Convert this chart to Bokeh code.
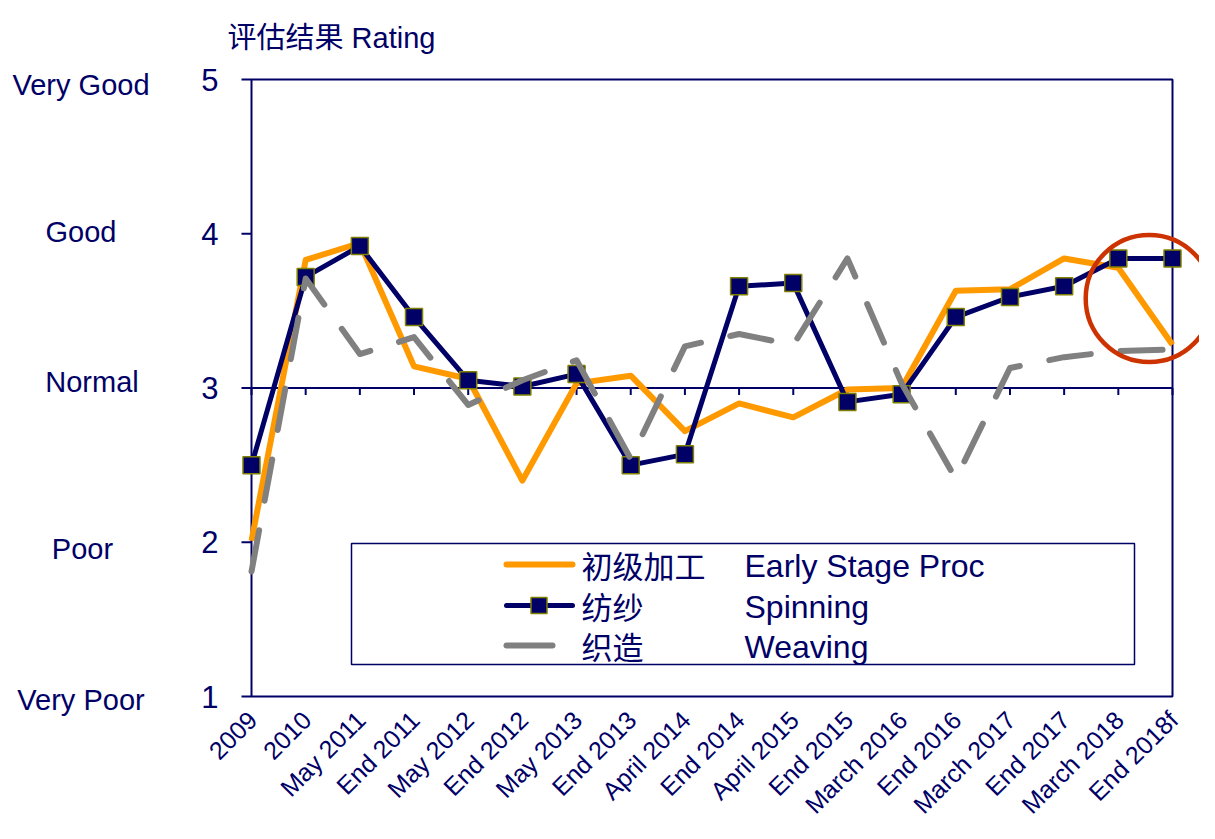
import math
from bokeh.plotting import figure
from bokeh.models import Range1d, Label, LabelSet, ColumnDataSource
from bokeh.core.properties import value
from bokeh.embed import file_html
from bokeh.resources import INLINE

# ---------------- data ----------------
categories = ["2009", "2010", "May 2011", "End 2011", "May 2012", "End 2012",
              "May 2013", "End 2013", "April 2014", "End 2014", "April 2015",
              "End 2015", "March 2016", "End 2016", "March 2017", "End 2017",
              "March 2018", "End 2018f"]
early_stage = [2.01, 3.83, 3.94, 3.14, 3.06, 2.40, 3.03, 3.08, 2.72, 2.90,
               2.81, 2.99, 3.00, 3.63, 3.64, 3.84, 3.78, 3.28]
spinning = [2.50, 3.72, 3.92, 3.46, 3.05, 3.01, 3.09, 2.50, 2.57, 3.66,
            3.68, 2.91, 2.96, 3.46, 3.59, 3.66, 3.84, 3.84]
weaving = [1.81, 3.71, 3.22, 3.33, 2.89, 3.05, 3.18, 2.54, 3.27, 3.35,
           3.28, 3.84, 3.03, 2.41, 3.13, 3.20, 3.24, 3.25]
rating_values = [5, 4, 3, 2, 1]
rating_names = ["Very Good", "Good", "Normal", "Poor", "Very Poor"]
series_cn = ["初级加工", "纺纱", "织造"]
series_en = ["Early Stage Proc", "Spinning", "Weaving"]
axis_cross = 3
title_text = "评估结果 Rating"
highlight_center = (16.57, 3.58)   # circled forecast area

# ---------------- styles / layout (reference pixels) ----------------
NAVY = "#000066"
ORANGE = "#FF9900"
GRAY = "#808080"
OLIVE = "#808000"
RED = "#CC3300"
LATIN = "Liberation Sans"
CJK = "Noto Sans CJK SC"
MIXED = "Liberation Sans, Noto Sans CJK SC"

W, H = 1199, 823
AX_L, AX_R, AX_T, AX_B = 251, 1172, 79, 696      # value box in reference px

n = len(categories)
x_idx = list(range(n))
y_top, y_bot = max(rating_values), min(rating_values)
px_x = (AX_R - AX_L) / (n - 1)
px_y = (AX_B - AX_T) / (y_top - y_bot)


def rx(px):
    return (px - AX_L) / px_x


def ry(py):
    return y_top - (py - AX_T) / px_y


p = figure(width=W, height=H, output_backend="svg", toolbar_location=None,
           x_range=Range1d(rx(0), rx(W)),
           y_range=Range1d(ry(H), ry(0)),
           min_border_left=0, min_border_right=0, min_border_top=0, min_border_bottom=0,
           x_axis_location=None, y_axis_location=None)
p.outline_line_color = None
p.background_fill_color = "white"
p.border_fill_color = "white"
for g in p.grid:
    g.visible = False
p.xgrid.grid_line_color = None
p.ygrid.grid_line_color = None

# plot box (left edge is the value axis)
p.quad(left=[x_idx[0]], right=[x_idx[-1]], bottom=[y_bot], top=[y_top],
       fill_color=None, line_color=NAVY, line_width=2)

# value-axis ticks and labels
nv = len(rating_values)
p.segment(x0=[x_idx[0]] * nv, y0=rating_values,
          x1=[x_idx[0] - 10 / px_x] * nv, y1=rating_values,
          line_color=NAVY, line_width=2)
val_src = ColumnDataSource(dict(x=[x_idx[0]] * nv, y=rating_values,
                                text=[str(v) for v in rating_values]))
p.add_layout(LabelSet(x="x", y="y", text="text", source=val_src, x_offset=-33,
                      text_align="right", text_baseline="middle",
                      text_font=value(LATIN), text_font_size=value("31px"), text_color=NAVY))

# category axis crossing at Normal
p.line(x=[x_idx[0], x_idx[-1]], y=[axis_cross, axis_cross], line_color=NAVY, line_width=2)
p.segment(x0=x_idx, y0=[axis_cross] * n, x1=x_idx, y1=[axis_cross - 7 / px_y] * n,
          line_color=NAVY, line_width=2)

# series
p.line(x_idx, early_stage, line_color=ORANGE, line_width=6, line_join="round")
p.line(x_idx, spinning, line_color=NAVY, line_width=5, line_join="round")
p.scatter(x_idx, spinning, marker="square", size=17, fill_color=NAVY,
          line_color=OLIVE, line_width=1.5)
p.line(x_idx, weaving, line_color=GRAY, line_width=6, line_dash="42 30",
       line_cap="round", line_join="round")

# highlight circle
p.scatter([highlight_center[0]], [highlight_center[1]], marker="circle", size=127,
          fill_color=None, line_color=RED, line_width=4.5)

# category labels
cat_src = ColumnDataSource(dict(x=x_idx, y=[y_bot] * n, text=categories))
p.add_layout(LabelSet(x="x", y="y", text="text", source=cat_src, angle=math.pi / 4,
                      text_align="right", text_baseline="middle", x_offset=1, y_offset=-19,
                      text_font=value(LATIN), text_font_size=value("25px"), text_color=NAVY))

# title
p.add_layout(Label(x=rx(227), y=ry(37.5), text=title_text, text_font=MIXED,
                   text_font_size="29px", text_color=NAVY, text_align="left",
                   text_baseline="alphabetic"))

# rating names
rating_cx = [80.5, 80.5, 91.5, 82, 80.5]
rating_cy = [84, 231, 381, 548, 699]
name_src = ColumnDataSource(dict(x=[rx(c) for c in rating_cx], y=[ry(c) for c in rating_cy],
                                 text=rating_names))
p.add_layout(LabelSet(x="x", y="y", text="text", source=name_src,
                      text_align="center", text_baseline="middle",
                      text_font=value(LATIN), text_font_size=value("29px"), text_color=NAVY))

# legend (drawn)
p.quad(left=[rx(351)], right=[rx(1134)], bottom=[ry(664)], top=[ry(543)],
       fill_color="white", line_color=NAVY, line_width=1.5)
row_y = [564, 605, 645]
p.line([rx(506), rx(572)], [ry(row_y[0])] * 2, line_color=ORANGE, line_width=6, line_cap="round")
p.line([rx(506), rx(572)], [ry(row_y[1])] * 2, line_color=NAVY, line_width=5, line_cap="round")
p.scatter([rx(538.5)], [ry(row_y[1])], marker="square", size=16, fill_color=NAVY,
          line_color=OLIVE, line_width=1.5)
p.line([rx(506), rx(552)], [ry(row_y[2])] * 2, line_color=GRAY, line_width=6, line_cap="round")
for cn, en, yy in zip(series_cn, series_en, row_y):
    p.add_layout(Label(x=rx(581), y=ry(yy), text=cn, text_font=CJK,
                       text_font_size="31px", text_color=NAVY, text_align="left",
                       text_baseline="middle"))
    p.add_layout(Label(x=rx(744), y=ry(yy + 1), text=en, text_font=LATIN,
                       text_font_size="32px", text_color=NAVY, text_align="left",
                       text_baseline="middle"))

open("out.html", "w").write(file_html(p, INLINE))
